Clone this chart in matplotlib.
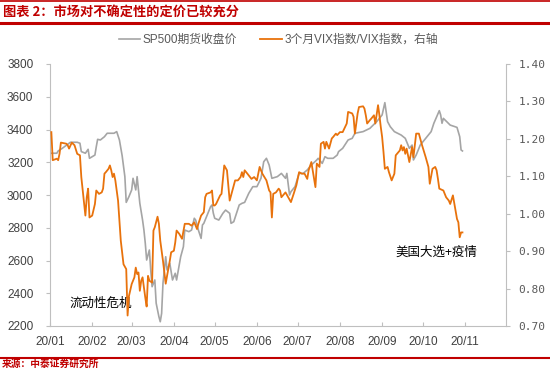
import matplotlib
matplotlib.use('Agg')
import matplotlib.pyplot as plt
import matplotlib.dates as mdates
from matplotlib.lines import Line2D
import pandas as pd

plt.rcParams['font.family'] = ['Liberation Sans', 'Noto Sans CJK SC']

# SP500 futures close (left axis)
spx_dates = ['01-02', '01-06', '01-07', '01-10', '01-14', '01-16', '01-21', '01-23', '01-24', '01-27',
             '01-29', '01-30', '02-03', '02-04', '02-05', '02-07', '02-10', '02-12', '02-17', '02-19',
             '02-21', '02-23', '02-25', '02-26', '02-28', '03-01', '03-02', '03-04', '03-05', '03-07',
             '03-09', '03-10', '03-11', '03-12', '03-14', '03-15', '03-16', '03-18', '03-19', '03-21',
             '03-22', '03-23', '03-24', '03-26', '03-27', '03-29', '03-31', '04-02', '04-03', '04-06',
             '04-08', '04-09', '04-12', '04-14', '04-16', '04-17', '04-19', '04-21', '04-22', '04-23',
             '04-25', '04-28', '04-29', '04-30', '05-01', '05-04', '05-07', '05-09', '05-12', '05-13',
             '05-15', '05-17', '05-19', '05-21', '05-23', '05-26', '05-29', '06-01', '06-04', '06-06',
             '06-08', '06-10', '06-12', '06-16', '06-19', '06-22', '06-23', '06-25', '06-26', '06-29',
             '07-02', '07-05', '07-08', '07-11', '07-15', '07-16', '07-19', '07-21', '07-23', '07-27',
             '07-30', '07-31', '08-03', '08-07', '08-10', '08-12', '08-18', '08-23', '08-28', '09-01',
             '09-03', '09-05', '09-07', '09-10', '09-15', '09-18', '09-21', '09-23', '09-24', '09-26',
             '09-29', '10-03', '10-07', '10-09', '10-13', '10-14', '10-15', '10-16', '10-21', '10-26',
             '10-28', '10-29', '10-30']
spx_close = [3255, 3255, 3269, 3285, 3310, 3322, 3322, 3316, 3265, 3255,
             3279, 3224, 3244, 3295, 3340, 3336, 3356, 3377, 3377, 3387,
             3336, 3240, 3112, 2955, 2990, 3031, 3102, 3031, 3112, 2949,
             2847, 2786, 2705, 2603, 2664, 2542, 2440, 2481, 2339, 2257,
             2226, 2277, 2461, 2623, 2542, 2583, 2481, 2522, 2481, 2623,
             2684, 2786, 2776, 2786, 2858, 2847, 2786, 2735, 2817, 2827,
             2868, 2929, 2939, 2888, 2858, 2847, 2888, 2908, 2888, 2827,
             2837, 2888, 2939, 2949, 2955, 3010, 3051, 3051, 3102, 3203,
             3224, 3183, 3102, 3112, 3132, 3102, 3132, 3000, 3020, 3051,
             3132, 3132, 3153, 3183, 3214, 3224, 3193, 3234, 3224, 3224,
             3244, 3265, 3285, 3336, 3346, 3377, 3387, 3407, 3448, 3489,
             3564, 3448, 3417, 3387, 3366, 3346, 3285, 3305, 3214, 3244,
             3305, 3346, 3387, 3438, 3515, 3489, 3438, 3468, 3427, 3413,
             3356, 3275, 3269]

# 3M VIX / VIX ratio (right axis)
ratio_dates = ['01-02', '01-03', '01-06', '01-07', '01-08', '01-09', '01-13', '01-14', '01-15', '01-17',
               '01-19', '01-21', '01-23', '01-24', '01-27', '01-28', '01-29', '01-30', '02-01', '02-03',
               '02-04', '02-06', '02-08', '02-09', '02-10', '02-11', '02-13', '02-14', '02-15', '02-16',
               '02-17', '02-18', '02-20', '02-22', '02-24', '02-26', '02-27', '02-28', '03-01', '03-02',
               '03-03', '03-04', '03-05', '03-06', '03-07', '03-08', '03-09', '03-11', '03-12', '03-13',
               '03-14', '03-16', '03-17', '03-18', '03-20', '03-21', '03-22', '03-24', '03-26', '03-27',
               '03-29', '03-30', '04-01', '04-02', '04-03', '04-05', '04-07', '04-09', '04-12', '04-14',
               '04-16', '04-18', '04-19', '04-21', '04-23', '04-24', '04-25', '04-28', '04-29', '04-30',
               '05-01', '05-02', '05-05', '05-06', '05-08', '05-10', '05-12', '05-14', '05-16', '05-18',
               '05-20', '05-21', '05-22', '05-23', '05-25', '05-28', '05-30', '06-01', '06-03', '06-05',
               '06-08', '06-10', '06-11', '06-12', '06-13', '06-15', '06-17', '06-18', '06-19', '06-22',
               '06-24', '06-26', '06-28', '06-30', '07-02', '07-04', '07-06', '07-08', '07-09', '07-11',
               '07-13', '07-14', '07-15', '07-17', '07-18', '07-20', '07-21', '07-22', '07-24', '07-26',
               '07-27', '07-29', '07-30', '08-01', '08-03', '08-06', '08-07', '08-10', '08-11', '08-12',
               '08-14', '08-15', '08-18', '08-19', '08-20', '08-21', '08-23', '08-24', '08-26', '08-27',
               '08-29', '08-30', '08-31', '09-01', '09-02', '09-03', '09-05', '09-06', '09-08', '09-10',
               '09-11', '09-14', '09-15', '09-16', '09-17', '09-18', '09-19', '09-21', '09-23', '09-24',
               '09-26', '09-28', '09-29', '09-30', '10-03', '10-05', '10-06', '10-08', '10-10', '10-11',
               '10-12', '10-13', '10-16', '10-18', '10-20', '10-21', '10-23', '10-25', '10-26', '10-27',
               '10-28', '10-29', '10-30']
ratio_vals = [1.218, 1.143, 1.147, 1.143, 1.160, 1.190, 1.187, 1.183, 1.174, 1.190,
              1.183, 1.160, 1.156, 1.098, 0.995, 1.044, 1.067, 0.990, 0.995, 1.026,
              1.062, 1.053, 1.057, 1.067, 1.107, 1.111, 1.120, 1.129, 1.116, 1.098,
              1.107, 1.089, 1.035, 0.928, 0.865, 0.852, 0.728, 0.780, 0.812, 0.821,
              0.830, 0.856, 0.839, 0.843, 0.794, 0.821, 0.830, 0.776, 0.752, 0.834,
              0.821, 0.816, 0.955, 0.964, 0.992, 0.973, 0.928, 0.874, 0.813, 0.834,
              0.874, 0.897, 0.901, 0.923, 0.955, 0.946, 0.933, 0.973, 0.973, 0.968,
              0.977, 0.959, 0.973, 0.995, 1.004, 1.044, 1.053, 1.057, 1.062, 1.022,
              1.022, 1.026, 1.049, 1.053, 1.129, 1.116, 1.035, 1.062, 1.089, 1.089,
              1.098, 1.111, 1.098, 1.116, 1.107, 1.093, 1.098, 1.089, 1.125, 1.107,
              1.089, 1.062, 1.057, 0.990, 1.053, 1.057, 1.067, 1.062, 1.044, 1.057,
              1.044, 1.031, 1.053, 1.076, 1.111, 1.107, 1.107, 1.093, 1.116, 1.138,
              1.093, 1.071, 1.134, 1.125, 1.187, 1.192, 1.174, 1.192, 1.174, 1.201,
              1.205, 1.214, 1.210, 1.218, 1.218, 1.241, 1.272, 1.268, 1.259, 1.214,
              1.268, 1.285, 1.287, 1.281, 1.263, 1.241, 1.250, 1.254, 1.263, 1.241,
              1.290, 1.263, 1.232, 1.205, 1.165, 1.120, 1.125, 1.111, 1.089, 1.107,
              1.156, 1.169, 1.183, 1.169, 1.178, 1.160, 1.174, 1.138, 1.178, 1.151,
              1.214, 1.214, 1.201, 1.187, 1.151, 1.125, 1.080, 1.120, 1.125, 1.116,
              1.093, 1.067, 1.062, 1.044, 1.035, 1.026, 1.049, 1.008, 0.986, 0.977,
              0.937, 0.950, 0.950]

left_ticks = [2200, 2400, 2600, 2800, 3000, 3200, 3400, 3600, 3800]
right_ticks = [0.70, 0.80, 0.90, 1.00, 1.10, 1.20, 1.30, 1.40]

RED = '#C00000'
GRAY = '#A5A5A5'
ORANGE = '#E8720C'
AXIS = '#BFBFBF'

spx_x = pd.to_datetime(['2020-' + d for d in spx_dates])
ratio_x = pd.to_datetime(['2020-' + d for d in ratio_dates])

fig = plt.figure(figsize=(5.5, 3.77), dpi=100)
ax = fig.add_axes([50 / 550, 1 - 326 / 377, 456 / 550, 262 / 377])
ax2 = ax.twinx()

l1, = ax.plot(spx_x, spx_close, color=GRAY, lw=1.2)
l2, = ax2.plot(ratio_x, ratio_vals, color=ORANGE, lw=1.3)

ax.set_xlim(pd.Timestamp('2020-01-01'), pd.Timestamp('2020-12-01'))
ax.set_ylim(2200, 3800)
ax.set_yticks(left_ticks)
ax2.set_ylim(0.70, 1.40)
ax2.set_yticks(right_ticks)
ax2.set_yticklabels([f'{v:.2f}' for v in right_ticks], family='DejaVu Sans Mono')

ax.xaxis.set_major_locator(mdates.MonthLocator(bymonth=range(1, 12)))
ax.xaxis.set_major_formatter(mdates.DateFormatter('%y/%m'))

for s in ['top', 'right']:
    ax.spines[s].set_visible(False)
for s in ['top', 'left', 'bottom']:
    ax2.spines[s].set_visible(False)
ax.spines['left'].set_color(AXIS)
ax.spines['bottom'].set_color(AXIS)
ax2.spines['right'].set_color(AXIS)

ax.tick_params(axis='y', direction='out', length=3, color=AXIS, labelsize=8.5,
               labelcolor='#404040', pad=9)
ax.tick_params(axis='x', direction='in', length=3, color=AXIS, labelsize=8.5,
               labelcolor='#404040', pad=7)
ax2.tick_params(axis='y', direction='out', length=3, color=AXIS, labelsize=8,
                labelcolor='#595959', pad=6)

ax.text(0.112, 0.086, '流动性危机', transform=ax.transAxes, ha='center', va='center',
        fontsize=9, family='Noto Sans CJK SC', color='black')
ax.text(0.848, 0.28, '美国大选+疫情', transform=ax.transAxes, ha='center', va='center',
        fontsize=9, family='Noto Sans CJK SC', color='black')

fig.legend([l1, l2], ['SP500期货收盘价', '3个月VIX指数/VIX指数，右轴'],
           loc='center', bbox_to_anchor=(0.506, 1 - 40 / 377), ncol=2, frameon=False,
           fontsize=8.5, labelcolor='#595959', handlelength=1.8, handletextpad=0.2,
           columnspacing=2.0)

# title band and source line
fig.text(0.006, 1 - 12 / 377, '图表 2：市场对不确定性的定价已较充分', ha='left', va='center',
         fontsize=9.5, color=RED, weight='bold', family='Noto Sans CJK SC')
fig.add_artist(Line2D([0, 1], [1 - 1 / 377] * 2, color=RED, lw=1.2))
fig.add_artist(Line2D([0, 1], [1 - 23 / 377] * 2, color=RED, lw=2.2))
fig.add_artist(Line2D([0, 1], [1 - 357.5 / 377] * 2, color=RED, lw=1.5))
fig.text(0.004, 1 - 364 / 377, '来源：中泰证券研究所', ha='left', va='center',
         fontsize=7, color=RED, weight='bold', family='Noto Sans CJK SC')

fig.savefig('out.png', dpi=100)
